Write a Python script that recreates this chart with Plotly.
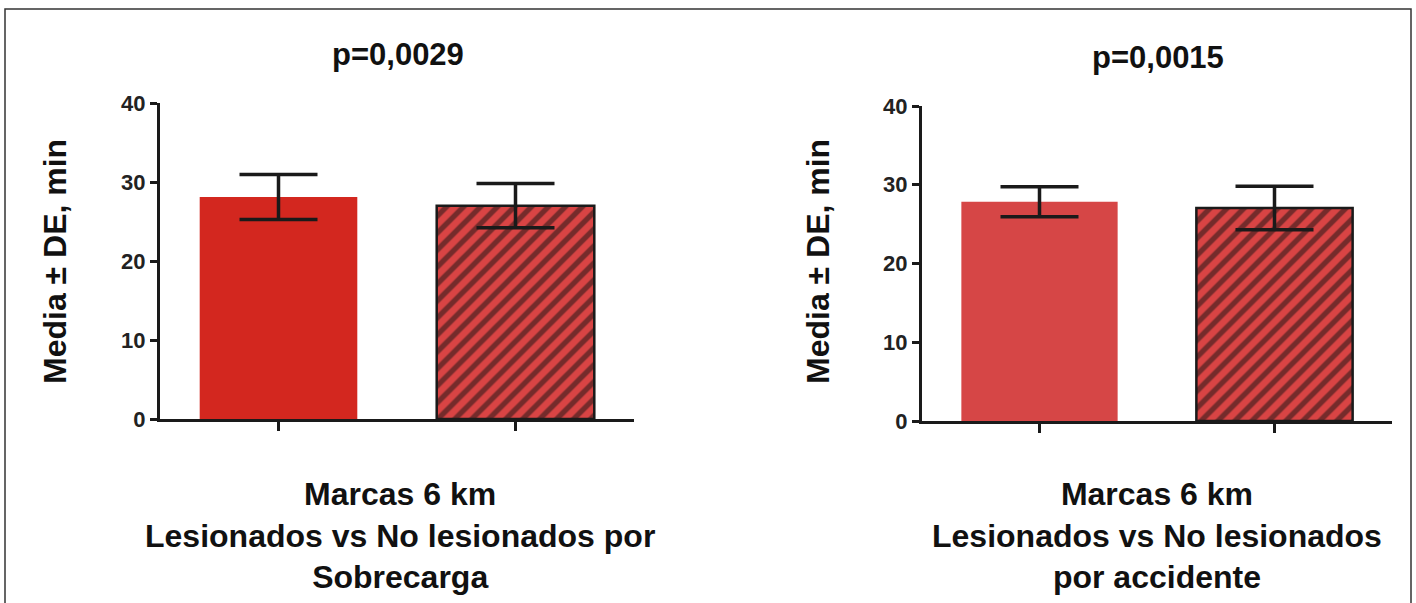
import plotly.graph_objects as go

# ---- data ----
categories = ["Lesionados", "No lesionados"]
left_means = [28.1, 27.0]
left_sd = [2.85, 2.8]
right_means = [27.85, 27.05]
right_sd = [1.9, 2.75]
left_title = "p=0,0029"
right_title = "p=0,0015"
left_xtitle = "Marcas 6 km<br>Lesionados vs No lesionados por<br>Sobrecarga"
right_xtitle = "Marcas 6 km<br>Lesionados vs No lesionados<br>por accidente"
y_title = "Media \u00b1 DE, min"
y_ticks = [0, 10, 20, 30, 40]

W, H = 1416, 603
FONT = "Liberation Sans, Arial, sans-serif"
INK = "#1a1a1a"

def px(x):
    return x / W

def py(y):
    return 1 - y / H

fig = go.Figure()

def add_panel(means, sds, solid_color, xa, ya):
    # solid bar
    fig.add_trace(go.Bar(
        x=[categories[0]], y=[means[0]], width=0.665,
        marker=dict(color=solid_color, line=dict(width=0)),
        error_y=dict(type="data", array=[sds[0]], visible=True,
                     color=INK, thickness=3.5, width=39),
        xaxis=xa, yaxis=ya, showlegend=False))
    # hatched bar
    fig.add_trace(go.Bar(
        x=[categories[1]], y=[means[1]], width=0.665,
        marker=dict(color="#d94444",
                    line=dict(color=INK, width=2.5),
                    pattern=dict(shape="/", fgcolor="#111111", bgcolor="#d94444",
                                 size=12, solidity=0.45, fillmode="overlay")),
        error_y=dict(type="data", array=[sds[1]], visible=True,
                     color=INK, thickness=3.5, width=39),
        xaxis=xa, yaxis=ya, showlegend=False))

add_panel(left_means, left_sd, "#d3271f", "x", "y")
add_panel(right_means, right_sd, "#d64646", "x2", "y2")

xcommon = dict(type="category", categoryorder="array", categoryarray=categories,
               range=[-0.5, 1.5], showline=True, linecolor=INK, linewidth=3,
               ticks="outside", ticklen=9, tickwidth=3, tickcolor=INK,
               showticklabels=False, showgrid=False, zeroline=False, fixedrange=True,
               automargin=False)
ycommon = dict(range=[0, 40], tickvals=y_ticks, showline=True, linecolor=INK, linewidth=3,
               ticks="outside", ticklen=7, tickwidth=3, tickcolor=INK,
               tickfont=dict(family=FONT, size=22, color="#222222", weight="bold"),
               showgrid=False, zeroline=False, fixedrange=True, automargin=False)

fig.update_layout(
    width=W, height=H,
    margin=dict(l=0, r=0, t=0, b=0, pad=0, autoexpand=False),
    paper_bgcolor="white", plot_bgcolor="white",
    xaxis=dict(domain=[px(160), px(634)], anchor="y", **xcommon),
    yaxis=dict(domain=[py(419), py(103)], anchor="x", **ycommon),
    xaxis2=dict(domain=[px(922), px(1392)], anchor="y2", **xcommon),
    yaxis2=dict(domain=[py(421), py(106)], anchor="x2", **ycommon),
)

def ann(text, x, y, size, angle=0, yanchor="middle"):
    fig.add_annotation(text=text, x=px(x), y=py(y), xref="paper", yref="paper",
                       showarrow=False, textangle=angle, xanchor="center", yanchor=yanchor,
                       font=dict(family=FONT, size=size, color="#111111", weight="bold"),
                       align="center")

ann(left_title, 398, 54, 31)
ann(right_title, 1158, 57, 31)
ann(y_title, 55, 262, 32, angle=-90)
ann(y_title, 818, 262, 32, angle=-90)
ann(left_xtitle, 400, 535, 32)
ann(right_xtitle, 1157, 535, 32)

# outer frame (bottom edge is outside the picture)
fig.add_shape(type="rect", xref="paper", yref="paper",
              x0=px(5), x1=px(1411), y0=-0.2, y1=py(9),
              line=dict(color="#333333", width=1.5), fillcolor="rgba(0,0,0,0)")

fig.write_html("out.html", config={"displayModeBar": False},
               post_script="document.body.style.margin='0';document.body.style.overflow='hidden';")
